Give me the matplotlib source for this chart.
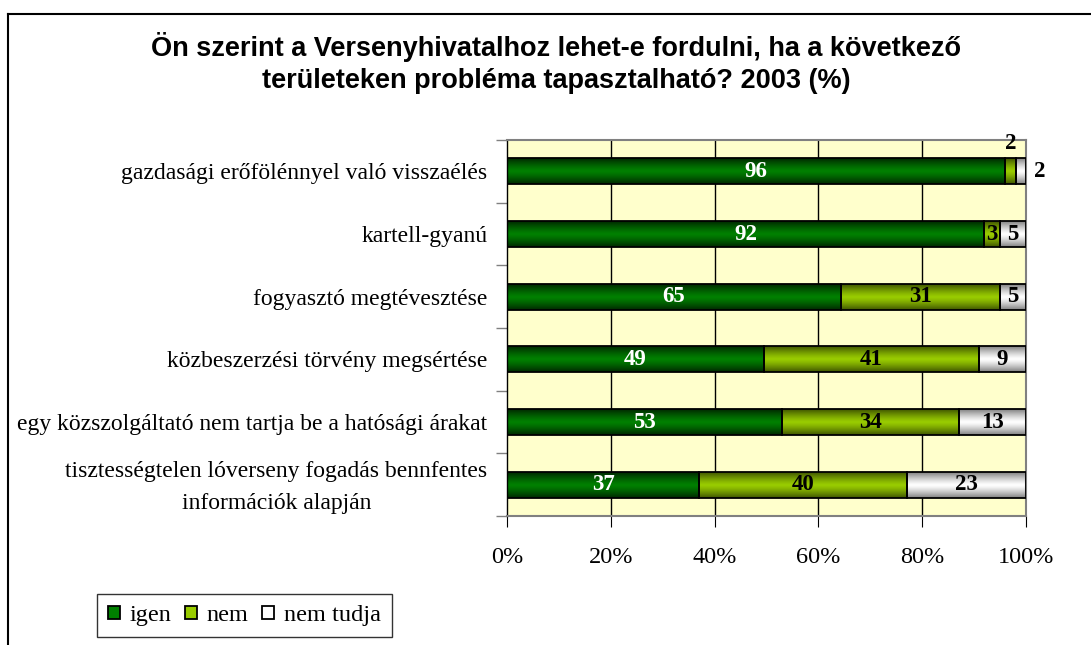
import numpy as np
import matplotlib
matplotlib.use("Agg")
import matplotlib.pyplot as plt
from matplotlib.lines import Line2D
from matplotlib.patches import Rectangle
from matplotlib.colors import LinearSegmentedColormap, to_rgb
from matplotlib.transforms import ScaledTranslation

categories = [
    "gazdasági erőfölénnyel való visszaélés",
    "kartell-gyanú",
    "fogyasztó megtévesztése",
    "közbeszerzési törvény megsértése",
    "egy közszolgáltató nem tartja be a hatósági árakat",
    "tisztességtelen lóverseny fogadás bennfentes\ninformációk alapján",
]
igen = [96, 92, 65, 49, 53, 37]
nem = [2, 3, 31, 41, 34, 40]
nem_tudja = [2, 5, 5, 9, 13, 23]
series_names = ["igen", "nem", "nem tudja"]
title = ("Ön szerint a Versenyhivatalhoz lehet-e fordulni, ha a következő\n"
         "területeken probléma tapasztalható? 2003 (%)")
xticks = [0, 20, 40, 60, 80, 100]
xticklabels = ["0%", "20%", "40%", "60%", "80%", "100%"]

base_colors = ["#008000", "#99CC00", "#FFFFFF"]
edge_colors = ["#002800", "#3f5500", "#808080"]
text_colors = ["white", "black", "black"]

serif = "Liberation Serif"
sans = "Liberation Sans"

fig = plt.figure(figsize=(10.91, 6.45), dpi=100)
ax = fig.add_axes([507/1091, 1-516/645, (1026-507)/1091, (516-140)/645])
ax.set_facecolor("#FFFFCC")

data = np.array([igen, nem, nem_tudja], dtype=float)
totals = data.sum(axis=0)
pct = data / totals * 100
y = np.arange(len(categories))
h = 0.41

# gridlines
for xv in xticks[1:-1]:
    ax.axvline(xv, color="black", lw=1, zorder=1)

left = np.zeros(len(categories))
grad = np.abs(np.linspace(-1, 1, 64)) ** 1.3
grad = grad.reshape(-1, 1)
for si in range(3):
    bars = ax.barh(y, pct[si], left=left, height=h, color=base_colors[si],
                   edgecolor="black", lw=1.3, zorder=3)
    cmap = LinearSegmentedColormap.from_list(
        "g%d" % si, [to_rgb(base_colors[si]), to_rgb(edge_colors[si])])
    for b in bars:
        b.set_facecolor("none")
        x0, y0 = b.get_x(), b.get_y()
        im = ax.imshow(grad, extent=[x0, x0 + b.get_width(), y0, y0 + b.get_height()],
                       aspect="auto", cmap=cmap, vmin=0, vmax=1, zorder=2.5,
                       interpolation="bilinear")
        im.set_clip_path(b)
    # value labels
    for i in range(len(categories)):
        cx = left[i] + pct[si][i] / 2
        cy = y[i]
        color = text_colors[si]
        if i == 0 and si == 1:
            cy = y[i] - 0.45
        if i == 0 and si == 2:
            cx = 102.7
        ax.text(cx, cy, "%d" % data[si][i], ha="center", va="center",
                fontsize=16.5, fontweight="bold", family=serif,
                color=color, zorder=5, clip_on=False)
    left = left + pct[si]

ax.set_xlim(0, 100)
ax.set_ylim(len(categories) - 0.5, -0.5)
ax.set_xticks(xticks)
ax.set_xticklabels(xticklabels, family=serif, fontsize=17.5)
ax.set_yticks(y)
ax.set_yticklabels(categories, family=serif, fontsize=17, multialignment="center",
                   linespacing=1.65)
ax.tick_params(axis="y", which="major", length=0, pad=14)
ax.set_yticks(np.arange(len(categories) + 1) - 0.5, minor=True)
ax.tick_params(axis="y", which="minor", length=8, color="#808080", width=1)
ax.tick_params(axis="x", length=8, color="black", pad=14, direction="out")

# nudge the two-line label slightly upward
last_lbl = ax.get_yticklabels()[-1]
last_lbl.set_transform(last_lbl.get_transform() +
                       ScaledTranslation(0, 5/100, fig.dpi_scale_trans))

for side in ["top", "right", "bottom"]:
    ax.spines[side].set_color("#808080")
    ax.spines[side].set_linewidth(1.5)
ax.spines["left"].set_color("black")
ax.spines["left"].set_linewidth(1)

fig.text(556/1091, 1-63/645, title, ha="center", va="center", family=sans,
         fontweight="bold", fontsize=19.5, linespacing=1.3)

handles = [Rectangle((0, 0), 1, 1, facecolor=base_colors[i], edgecolor="black", lw=1.3)
           for i in range(3)]
leg = fig.legend(handles, series_names, loc="lower left",
                 bbox_to_anchor=(97/1091, 1-637/645), ncol=3,
                 prop={"family": serif, "size": 17.5}, frameon=True, fancybox=False,
                 edgecolor="black", handlelength=0.5, handleheight=0.5,
                 handletextpad=0.4, columnspacing=0.55, borderpad=0.45,
                 borderaxespad=0)
leg.get_frame().set_linewidth(1)

# outer chart border (top and left visible)
fig.add_artist(Line2D([8/1091, 8/1091], [0, 1-14/645], color="black", lw=1.5,
                      transform=fig.transFigure))
fig.add_artist(Line2D([8/1091, 1], [1-14/645, 1-14/645], color="black", lw=1.5,
                      transform=fig.transFigure))

fig.savefig("out.png", dpi=100)
